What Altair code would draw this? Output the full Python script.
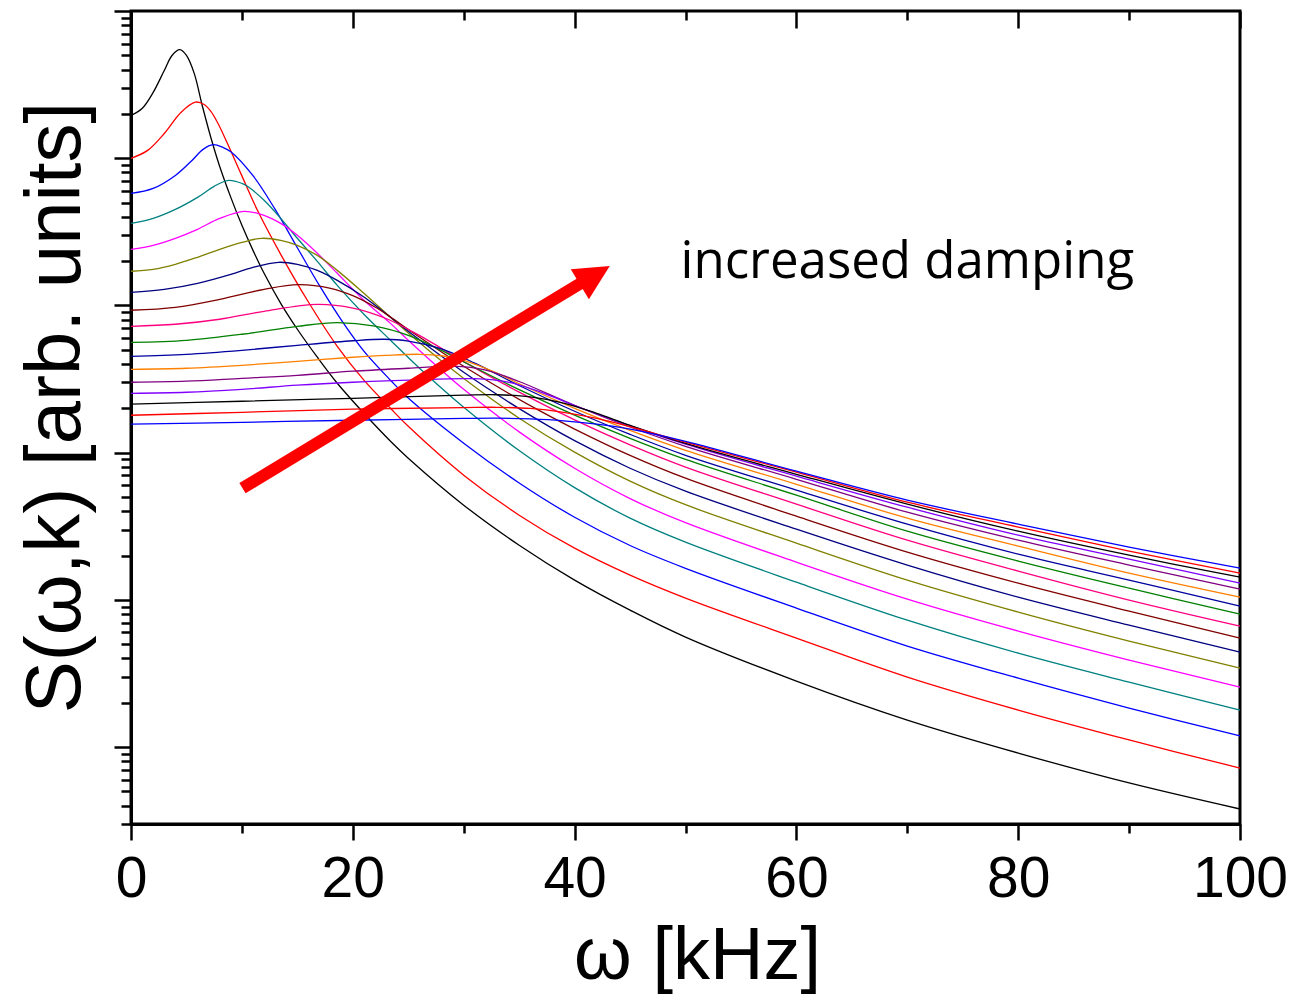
import altair as alt
import pandas as pd

# ---------------- data (S in log10 units) ----------------
curve_names = ["c01", "c02", "c03", "c04", "c05", "c06", "c07", "c08", "c09",
               "c10", "c11", "c12", "c13", "c14", "c15", "c16", "c17"]
curve_colors = ["#000000", "#FF0000", "#0000FF", "#008080", "#FF00FF", "#808000",
                "#000080", "#800000", "#FF0080", "#008000", "#0000A0", "#FF8000",
                "#800080", "#8000FF", "#000000", "#FF0000", "#0000FF"]

w_c01 = [0, 1, 2, 3, 3.7, 4.4, 5, 5.7, 6.4, 7.2, 8, 9, 10, 11, 12, 13.5, 15, 16.8, 18.6, 21,
         23.4, 25, 30, 35, 40, 45, 50, 60, 70, 80, 90, 100]
s_c01 = [4.291, 4.338, 4.447, 4.596, 4.698, 4.737, 4.698, 4.576, 4.365, 4.141, 3.944, 3.734,
         3.544, 3.374, 3.218, 3.014, 2.838, 2.648, 2.471, 2.267, 2.077, 1.962, 1.643, 1.371,
         1.134, 0.930, 0.747, 0.448, 0.183, -0.041, -0.244, -0.421]

w_c02 = [0, 1.5, 3, 4.5, 5.8, 6.6, 7.2, 7.8, 8.7, 9.9, 11.4, 13.5, 15.9, 18.6, 21, 23.4, 25,
         30, 35, 40, 45, 50, 60, 70, 80, 90, 100]
s_c02 = [3.999, 4.053, 4.168, 4.311, 4.381, 4.365, 4.318, 4.243, 4.100, 3.897, 3.646, 3.347,
         3.035, 2.722, 2.492, 2.301, 2.179, 1.847, 1.575, 1.351, 1.168, 1.012, 0.740, 0.475,
         0.251, 0.048, -0.143]

w_c03 = [0, 2, 4, 5.5, 6.5, 7.4, 8.3, 9, 11, 13, 15, 17, 19, 21, 23.4, 25, 30, 35, 40, 45, 50,
         60, 70, 80, 90, 100]
s_c03 = [3.761, 3.795, 3.883, 3.985, 4.060, 4.092, 4.073, 4.044, 3.881, 3.652, 3.392, 3.134,
         2.897, 2.690, 2.492, 2.371, 2.064, 1.794, 1.561, 1.369, 1.214, 0.944, 0.686, 0.468,
         0.265, 0.075]

w_c04 = [0, 2, 4, 6, 7.5, 8.8, 10, 10.5, 12, 13.5, 15, 16.8, 18.6, 21, 23.4, 25, 27, 30, 35,
         40, 45, 50, 60, 70, 80, 90, 100]
s_c04 = [3.557, 3.591, 3.652, 3.734, 3.809, 3.849, 3.829, 3.809, 3.714, 3.591, 3.456, 3.299,
         3.136, 2.940, 2.763, 2.646, 2.505, 2.308, 2.014, 1.762, 1.555, 1.392, 1.120, 0.862,
         0.638, 0.441, 0.251]

w_c05 = [0, 2, 4, 6, 8, 10.2, 12, 13.5, 15, 16.8, 18.6, 21, 23.4, 25, 28, 30, 35, 40, 45, 50,
         60, 70, 80, 90, 100]
s_c05 = [3.381, 3.408, 3.456, 3.517, 3.591, 3.639, 3.612, 3.557, 3.476, 3.354, 3.218, 3.035,
         2.878, 2.763, 2.559, 2.430, 2.141, 1.894, 1.688, 1.524, 1.256, 1.005, 0.788, 0.591,
         0.407]

w_c06 = [0, 2, 4, 6, 8, 10, 11.8, 13.5, 15, 16.8, 18.6, 21, 23.4, 25, 28, 30, 35, 40, 45, 50,
         60, 70, 80, 90, 100]
s_c06 = [3.232, 3.245, 3.279, 3.327, 3.381, 3.428, 3.456, 3.442, 3.408, 3.340, 3.238, 3.082,
         2.919, 2.813, 2.623, 2.504, 2.234, 2.003, 1.806, 1.646, 1.385, 1.134, 0.917, 0.720,
         0.536]

w_c07 = [0, 3, 6, 9, 11, 13.3, 15, 16.8, 18.6, 21, 23.4, 25, 28, 30, 32, 35, 40, 45, 50, 60,
         70, 80, 90, 100]
s_c07 = [3.089, 3.109, 3.150, 3.211, 3.259, 3.293, 3.279, 3.238, 3.170, 3.057, 2.919, 2.824,
         2.654, 2.546, 2.444, 2.299, 2.081, 1.894, 1.738, 1.480, 1.236, 1.018, 0.828, 0.645]

w_c08 = [0, 4, 8, 12, 15.1, 18, 20, 22, 23.4, 25, 28, 30, 34, 37, 40, 45, 50, 60, 70, 80, 90,
         100]
s_c08 = [2.967, 2.987, 3.041, 3.109, 3.141, 3.116, 3.066, 2.989, 2.921, 2.836, 2.684, 2.587,
         2.405, 2.278, 2.160, 1.981, 1.826, 1.568, 1.324, 1.113, 0.923, 0.740]

w_c09 = [0, 4, 8, 12, 16.8, 20, 23, 26, 30, 35, 40, 45, 50, 60, 70, 80, 90, 100]
s_c09 = [2.858, 2.872, 2.906, 2.960, 3.007, 2.982, 2.911, 2.796, 2.618, 2.411, 2.223, 2.053,
         1.902, 1.650, 1.405, 1.195, 0.998, 0.821]

w_c10 = [0, 5, 10, 15, 18.6, 22, 25, 28, 30, 35, 40, 45, 50, 60, 70, 80, 90, 100]
s_c10 = [2.749, 2.763, 2.804, 2.858, 2.883, 2.859, 2.796, 2.694, 2.616, 2.428, 2.255, 2.097,
         1.954, 1.711, 1.466, 1.263, 1.079, 0.903]

w_c11 = [0, 5, 10, 15, 20, 22.8, 25, 28, 31, 35, 40, 45, 50, 60, 70, 80, 90, 100]
s_c11 = [2.654, 2.668, 2.695, 2.729, 2.760, 2.770, 2.758, 2.705, 2.608, 2.456, 2.281, 2.124,
         1.982, 1.745, 1.514, 1.310, 1.134, 0.957]

w_c12 = [0, 5, 10, 15, 20, 23, 26, 28, 30, 33, 35, 40, 45, 50, 60, 70, 80, 90, 100]
s_c12 = [2.566, 2.573, 2.593, 2.620, 2.648, 2.661, 2.668, 2.658, 2.627, 2.540, 2.468, 2.301,
         2.151, 2.016, 1.785, 1.555, 1.365, 1.181, 1.018]

w_c13 = [0, 5, 10, 15, 20, 25, 29, 32, 35, 40, 45, 50, 60, 70, 80, 90, 100]
s_c13 = [2.478, 2.485, 2.505, 2.525, 2.553, 2.573, 2.587, 2.561, 2.483, 2.321, 2.174, 2.043,
         1.819, 1.595, 1.405, 1.236, 1.073]

w_c14 = [0, 5, 10, 15, 20, 25, 31, 34, 37, 40, 45, 50, 60, 70, 80, 90, 100]
s_c14 = [2.403, 2.410, 2.430, 2.458, 2.478, 2.492, 2.502, 2.479, 2.410, 2.320, 2.183, 2.057,
         1.840, 1.629, 1.439, 1.276, 1.113]

w_c15 = [0, 10, 20, 30, 33, 36, 39, 42, 45, 50, 60, 70, 80, 90, 100]
s_c15 = [2.329, 2.349, 2.369, 2.390, 2.393, 2.379, 2.337, 2.267, 2.185, 2.062, 1.853, 1.650,
         1.466, 1.303, 1.154]

w_c16 = [0, 10, 20, 30, 33, 36, 39, 42, 45, 50, 60, 70, 80, 90, 100]
s_c16 = [2.254, 2.274, 2.295, 2.306, 2.308, 2.300, 2.274, 2.232, 2.176, 2.071, 1.867, 1.663,
         1.494, 1.331, 1.181]

w_c17 = [0, 10, 20, 30, 33, 36, 39, 42, 45, 50, 60, 70, 80, 90, 100]
s_c17 = [2.193, 2.206, 2.220, 2.232, 2.234, 2.229, 2.216, 2.193, 2.160, 2.077, 1.874, 1.677,
         1.514, 1.358, 1.215]

# axis ticks
x_major_ticks = [0, 20, 40, 60, 80, 100]
x_minor_ticks = [10, 30, 50, 70, 90]
y_major_ticks = [1, 10, 100, 1000, 10000, 100000]
y_minor_ticks = [0.3, 0.4, 0.5, 0.6, 0.7, 0.8, 0.9] + [m * 10 ** p for p in range(0, 5)
                                                      for m in range(2, 10)]

# annotation
arrow_x = [10.05]
arrow_y = [57.3]
arrow_x2 = [40.98]
arrow_y2 = [1480]
head_x = [41.82]
head_y = [1606]
label_x = [49.55]
label_y = [1528]
label_text = ["increased damping"]

# ---------------- build tables ----------------
omegas = [w_c01, w_c02, w_c03, w_c04, w_c05, w_c06, w_c07, w_c08, w_c09, w_c10, w_c11,
          w_c12, w_c13, w_c14, w_c15, w_c16, w_c17]
logs = [s_c01, s_c02, s_c03, s_c04, s_c05, s_c06, s_c07, s_c08, s_c09, s_c10, s_c11,
        s_c12, s_c13, s_c14, s_c15, s_c16, s_c17]
rows = []
for name, ws, ss in zip(curve_names, omegas, logs):
    for w, s in zip(ws, ss):
        rows.append({"curve": name, "omega": w, "S": 10 ** s})
df = pd.DataFrame(rows)

arrow_df = pd.DataFrame({"x": arrow_x, "y": arrow_y, "x2": arrow_x2, "y2": arrow_y2})
head_df = pd.DataFrame({"x": head_x, "y": head_y})
label_df = pd.DataFrame({"x": label_x, "y": label_y, "t": label_text})

FONT = "Liberation Sans"
xs = alt.Scale(domain=[0, 100], nice=False, zero=False)
ys = alt.Scale(type="log", domain=[0.3, 100000], nice=False)

# ---------------- layers ----------------
lines = alt.Chart(df).mark_line(strokeWidth=1.3, interpolate="catmull-rom").encode(
    x=alt.X("omega:Q", scale=xs,
            axis=alt.Axis(orient="bottom", values=x_major_ticks, tickSize=16, tickWidth=2.5,
                          tickColor="black", domainWidth=3, domainColor="black", grid=False,
                          labelFont=FONT, labelFontSize=57, labelColor="black",
                          labelPadding=11, labelFlush=False, labelOverlap=False,
                          title="ω [kHz]", titleFont=FONT, titleFontSize=74,
                          titleFontWeight="normal", titleColor="black",
                          titleX=566, titleY=154, titleAlign="center",
                          titleBaseline="alphabetic", titleAngle=0)),
    y=alt.Y("S:Q", scale=ys,
            axis=alt.Axis(orient="left", values=y_major_ticks, tickSize=17, tickWidth=2.5,
                          tickColor="black", domainWidth=3, domainColor="black", grid=False,
                          labels=False, title="S(ω,k) [arb. units]", titleFont=FONT,
                          titleFontSize=78, titleFontWeight="normal", titleColor="black",
                          titleX=-52, titleY=396, titleAngle=270, titleAlign="center",
                          titleBaseline="alphabetic")),
    color=alt.Color("curve:N", scale=alt.Scale(domain=curve_names, range=curve_colors),
                    legend=None),
)

minor_axes = alt.Chart(df).mark_point(opacity=0).encode(
    x=alt.X("omega:Q", scale=xs,
            axis=alt.Axis(orient="bottom", values=x_minor_ticks, tickSize=9, tickWidth=2.5,
                          tickColor="black", domain=False, labels=False, grid=False,
                          title=None)),
    y=alt.Y("S:Q", scale=ys,
            axis=alt.Axis(orient="left", values=y_minor_ticks, tickSize=10, tickWidth=2.5,
                          tickColor="black", domain=False, labels=False, grid=False,
                          title=None)),
)

top_major = alt.Chart(df).mark_point(opacity=0).encode(
    x=alt.X("omega:Q", scale=xs,
            axis=alt.Axis(orient="top", values=x_major_ticks, offset=-17, tickSize=17,
                          tickWidth=2.5, tickColor="black", domain=False, labels=False,
                          grid=False, title=None)),
    y=alt.Y("S:Q", scale=ys, axis=None),
)

top_minor = alt.Chart(df).mark_point(opacity=0).encode(
    x=alt.X("omega:Q", scale=xs,
            axis=alt.Axis(orient="top", values=x_minor_ticks, offset=-9, tickSize=9,
                          tickWidth=2.5, tickColor="black", domain=False, labels=False,
                          grid=False, title=None)),
    y=alt.Y("S:Q", scale=ys, axis=None),
)

shaft = alt.Chart(arrow_df).mark_rule(color="#FF0000", strokeWidth=12).encode(
    x=alt.X("x:Q", scale=xs, axis=None),
    y=alt.Y("y:Q", scale=ys, axis=None),
    x2="x2:Q",
    y2="y2:Q",
)

head = alt.Chart(head_df).mark_point(shape="M0,-1L1,1L-1,1Z", filled=True, color="#FF0000",
                                     opacity=1, size=1225, angle=58.8, strokeWidth=0).encode(
    x=alt.X("x:Q", scale=xs, axis=None),
    y=alt.Y("y:Q", scale=ys, axis=None),
)

label = alt.Chart(label_df).mark_text(font="Open Sans", fontSize=51, align="left",
                                      baseline="alphabetic", color="black").encode(
    x=alt.X("x:Q", scale=xs, axis=None),
    y=alt.Y("y:Q", scale=ys, axis=None),
    text="t:N",
)

chart = alt.layer(lines, minor_axes, top_major, top_minor, shaft, head, label).resolve_axis(
    x="independent", y="independent"
).properties(
    width=1109,
    height=813,
    autosize=alt.AutoSizeParams(type="none"),
    padding={"left": 123, "top": 3, "right": 49, "bottom": 173},
    background="white",
).configure_view(stroke="black", strokeWidth=3)

chart.save("out.html", embed_options={"renderer": "svg", "actions": False})
